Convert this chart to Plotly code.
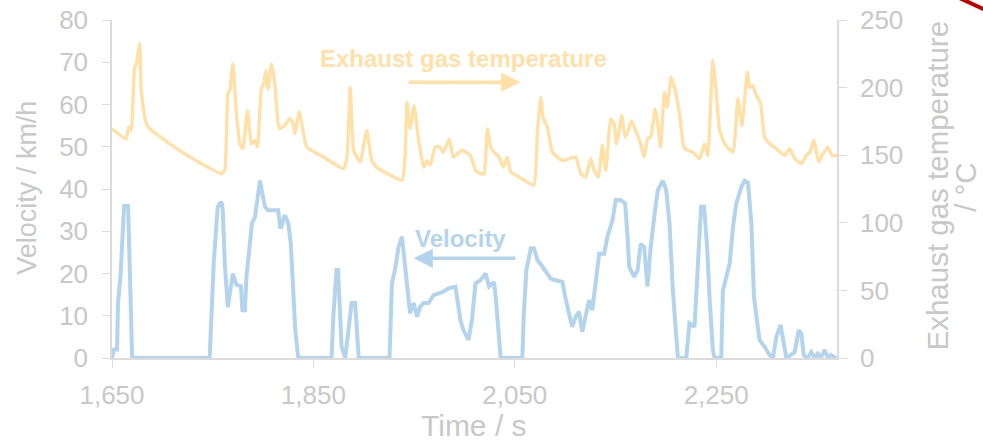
import plotly.graph_objects as go

# ---- data ----
vel_time = [1650, 1652, 1655, 1656, 1658.6, 1661, 1662, 1666, 1666.6, 1667.6, 1670,
            1747, 1749, 1751, 1755, 1758.6, 1760, 1762, 1765, 1768, 1770, 1773.5, 1778,
            1779.5, 1782, 1783.5, 1787, 1789, 1792, 1794.5, 1797, 1800, 1802, 1805, 1815,
            1817, 1818, 1821.6, 1825, 1827.6, 1830, 1832, 1835,
            1868, 1870, 1873, 1874.5, 1876.6, 1878, 1881.6, 1885, 1888, 1891.5, 1893, 1895,
            1925.6, 1928, 1931, 1934.6, 1938, 1941, 1944.5, 1946, 1949.5, 1953, 1956,
            1959.5, 1964.4, 1969.4, 1974.4, 1979, 1984.3, 1991, 1992.6, 1996, 1999, 2004,
            2007.5, 2011, 2016, 2021, 2024.5, 2029.4, 2031, 2033.7, 2036,
            2057.5, 2059, 2061.5, 2066, 2069, 2072.5, 2077.5, 2082.4, 2085.7, 2090.6,
            2097.3, 2100, 2104, 2107, 2110.5, 2113.8, 2117, 2120.5, 2123.8, 2127, 2130.5,
            2133.8, 2138.8, 2142, 2147, 2150.3, 2155, 2159.6, 2162, 2163.6, 2168.6, 2172,
            2175, 2178.5, 2181.8, 2185, 2188.5, 2192, 2197, 2200.4, 2203.7, 2207, 2210.4,
            2212, 2220.3, 2223.5, 2228.5, 2230, 2233.5, 2235, 2238, 2241, 2243.4, 2246.7,
            2248.4, 2255, 2256.7, 2260, 2263.4, 2266.7, 2270, 2275, 2278.3, 2281.6, 2285,
            2287.5, 2290, 2293, 2298, 2303, 2306.4, 2309.7, 2314, 2317.3, 2319.7, 2324,
            2328, 2332, 2334.6, 2337, 2341, 2344.5, 2348, 2351, 2354, 2357.7, 2361, 2364,
            2369]
velocity = [0, 2, 2, 13, 20, 29, 36, 36, 30, 15, 0,
            0, 10.6, 22.4, 35.8, 37, 35, 22.4, 12, 17.7, 20, 17.3, 17,
            11.3, 11.3, 19.2, 27, 31.9, 33.4, 38, 42, 38, 35.8, 35, 35,
            31, 31, 33.8, 32, 27, 17.7, 6.6, 0,
            0, 10.6, 20.8, 20.8, 8.3, 2.7, 0, 6.6, 13, 13, 6.6, 0,
            0, 17.7, 20.8, 26.3, 28.7, 22.4, 13, 10.6, 13, 9.8, 12.1,
            13, 13, 14.9, 15.3, 15.7, 16.5, 16.9, 14.5, 9, 6.6, 4.3,
            9, 17.7, 18.4, 20, 16.9, 18, 14.5, 6.6, 0,
            0, 10.6, 20.8, 26, 26, 23.2, 21.6, 20, 18.8, 18.4,
            18, 14.5, 9.8, 7.4, 9.8, 11, 6.2, 10.6, 13.7, 11.3, 17.7,
            24.7, 24.7, 28.7, 32.6, 37.4, 37.4, 36.6, 28.7, 21.6, 19.2, 20.8,
            27, 26.3, 16.9, 26.3, 33.4, 39.7, 42, 39.7, 31.8, 16, 5,
            0, 0, 8.2, 7.4, 14.5, 33.4, 35.8, 35.8, 26.3, 14.5, 1.9,
            0, 0, 16, 19.2, 22.4, 31, 36.6, 40.5, 42, 41.5, 31.8,
            14.5, 9, 4.3, 2.7, 0.7, 0, 5, 7.8, 3.5, 0, 0.7,
            1.4, 6.6, 5.8, 0.7, 0, 1.4, 0, 1, 0, 1.9, 0, 0.7,
            0]

temp_time = [1650, 1664, 1666.6, 1669, 1672.5, 1674, 1677.5, 1679, 1682.5, 1686, 1712,
             1739, 1758.6, 1762, 1765, 1767, 1770, 1773.6, 1777, 1780, 1784.5, 1788.5,
             1792, 1794.5, 1798.5, 1800.7, 1802.8, 1805, 1808.4, 1811.7, 1815, 1816.7,
             1821.6, 1826.6, 1830, 1831.6, 1836, 1843.5, 1860, 1880, 1883.3, 1886.6, 1890,
             1896.5, 1903, 1908, 1913, 1938, 1941, 1943, 1946, 1950, 1954.5, 1959.5,
             1962.8, 1966, 1971, 1976, 1979, 1985, 1989, 1997.6, 2006, 2011, 2016, 2019.5,
             2022.8, 2026, 2031, 2034.4, 2038.4, 2042.6, 2046, 2054.3, 2069, 2072.5,
             2075.7, 2078, 2082.4, 2087.4, 2097.3, 2104, 2110.5, 2115.5, 2120.5, 2125.4,
             2128.8, 2133, 2137, 2140.4, 2145.3, 2148.6, 2151, 2153.6, 2156.3, 2159.6,
             2162, 2166, 2170, 2175, 2178.5, 2181.8, 2185, 2189.4, 2191.7, 2194.7, 2198.7,
             2201.4, 2205.3, 2209.3, 2213.6, 2217.9, 2222, 2226.8, 2233.5, 2238.5, 2241.7,
             2246.7, 2250, 2253.4, 2258.4, 2266.6, 2271.6, 2275.5, 2281, 2283.2, 2286.5,
             2290, 2294, 2298, 2303, 2309.7, 2318, 2323, 2328, 2334.6, 2339.5, 2343, 2347,
             2351.8, 2356, 2361, 2365, 2370]
temperature = [169.5, 162.1, 170.7, 168.3, 215, 217, 232.2, 197.8, 178, 170.7, 156,
               143.7, 136.3, 138.7, 195.3, 198, 217.5, 180.6, 158.4, 154.8, 183, 158.4,
               160.8, 156, 200, 202.7, 212.5, 199, 217.5, 202.7, 173.2, 169.5,
               172, 177, 173.2, 166, 182, 156, 148.6, 140, 148.6, 200.2, 153.5,
               145, 168.3, 146, 141, 131.4, 148.6, 189, 169.5, 186.7, 160.9, 141.2,
               146, 142.7, 156, 156, 152, 162, 148.6, 153.5, 149.8, 138.7, 136.3, 136.3,
               169.5, 156, 151, 148.6, 141.2, 148.6, 137.5, 133.8, 127.7, 168.3,
               192.8, 178, 170.7, 152.3, 146, 147.4, 148.6, 136.3, 133.8, 147.4,
               138.7, 133.8, 157.2, 138.7, 176.9, 173.2, 158.4, 168.3, 179.3, 163.3,
               167, 175.6, 168.3, 158.4, 148.6, 162, 163.5, 184.3, 175.6, 156, 196.5,
               185.5, 207.6, 197.8, 180.6, 156, 153.5, 152.3, 147.4, 158.4, 149.8,
               220, 197.8, 168.3, 158.4, 152.3, 191.6, 172, 211.3, 200.2, 201.5,
               194, 189, 163.3, 158.4, 154.8, 149.8, 154.8, 147.4, 143.7, 149.8, 152, 160.9,
               145, 151, 156, 149.8, 149.8]

x_ticks = [1650, 1850, 2050, 2250]
vel_ticks = [0, 10, 20, 30, 40, 50, 60, 70, 80]
temp_ticks = [0, 50, 100, 150, 200, 250]

x_title = "Time / s"
y_title = "Velocity / km/h"
y2_title_lines = ["Exhaust gas temperature", "/ °C"]

VEL_COLOR = "#B4D4EE"
TEMP_COLOR = "#FFE1A8"
TEXT_COLOR = "#C8C8C8"
AXIS_COLOR = "#DCDCDC"
FONT = "Arial, Liberation Sans, sans-serif"

fig = go.Figure()
fig.add_trace(go.Scatter(x=temp_time, y=temperature, yaxis="y2", mode="lines",
                         line=dict(color=TEMP_COLOR, width=3.4, shape="spline", smoothing=0.4),
                         name="Exhaust gas temperature", showlegend=False))
fig.add_trace(go.Scatter(x=vel_time, y=velocity, mode="lines",
                         line=dict(color=VEL_COLOR, width=4),
                         name="Velocity", showlegend=False))

common = dict(showgrid=False, zeroline=False, showline=True, linecolor=AXIS_COLOR,
              linewidth=1.5, ticks="outside", ticklen=8, tickcolor=AXIS_COLOR,
              tickfont=dict(size=26, color=TEXT_COLOR), automargin=False)

fig.update_layout(
    width=983, height=443,
    margin=dict(l=112, r=146, t=20, b=85, pad=0),
    paper_bgcolor="white", plot_bgcolor="white",
    font=dict(family=FONT, color=TEXT_COLOR, size=26),
    xaxis=dict(range=[1650, 2370], tickvals=x_ticks, tickformat=",d",
               ticklabelstandoff=5, **common),
    yaxis=dict(range=[0, 80], tickvals=vel_ticks, ticklabelstandoff=9, **common),
    yaxis2=dict(range=[0, 250], tickvals=temp_ticks, overlaying="y", side="right",
                ticklabelstandoff=8, **common),
)

# axis titles (placed as paper annotations)
fig.add_annotation(x=0.4993, y=-0.2515, xref="paper", yref="paper", text=x_title,
                   showarrow=False, xanchor="center", yanchor="bottom", borderpad=0,
                   font=dict(size=30, color=TEXT_COLOR, family=FONT))
fig.add_annotation(x=-0.1172, y=0.504, xref="paper", yref="paper", text=y_title,
                   textangle=-90, showarrow=False, xanchor="center", yanchor="middle",
                   borderpad=0, font=dict(size=27, color=TEXT_COLOR, family=FONT))
fig.add_annotation(x=1.1387, y=0.509, xref="paper", yref="paper", text=y2_title_lines[0],
                   textangle=-90, showarrow=False, xanchor="center", yanchor="middle",
                   borderpad=0, font=dict(size=29.5, color=TEXT_COLOR, family=FONT))
fig.add_annotation(x=1.2014, y=0.505, xref="paper", yref="paper", text=y2_title_lines[1],
                   textangle=-90, showarrow=False, xanchor="right", yanchor="middle",
                   borderpad=0, font=dict(size=29.5, color=TEXT_COLOR, family=FONT))

# labels with arrows
fig.add_annotation(x=1999, y=221.4, xref="x", yref="y2", text="<b>Exhaust gas temperature</b>",
                   showarrow=False, font=dict(size=24, color=TEMP_COLOR, family=FONT))
fig.add_annotation(x=2055.6, y=204, xref="x", yref="y2", ax=1943, ay=204, axref="x", ayref="y2",
                   text="", showarrow=True, arrowhead=2, arrowsize=1.1, arrowwidth=3.5,
                   arrowcolor=TEMP_COLOR)
fig.add_annotation(x=1996.4, y=28.4, xref="x", yref="y", text="<b>Velocity</b>",
                   showarrow=False, font=dict(size=24, color=VEL_COLOR, family=FONT))
fig.add_annotation(x=1949.5, y=23.6, xref="x", yref="y", ax=2052.3, ay=23.6, axref="x", ayref="y",
                   text="", showarrow=True, arrowhead=2, arrowsize=1.1, arrowwidth=3.5,
                   arrowcolor=VEL_COLOR)

# decorative red stroke in the top-right corner
fig.add_shape(type="line", xref="paper", yref="paper", x0=1.1674, y0=1.0665, x1=1.2184, y1=1.0163,
              line=dict(color="#C00000", width=4))

fig.write_html("out.html")
